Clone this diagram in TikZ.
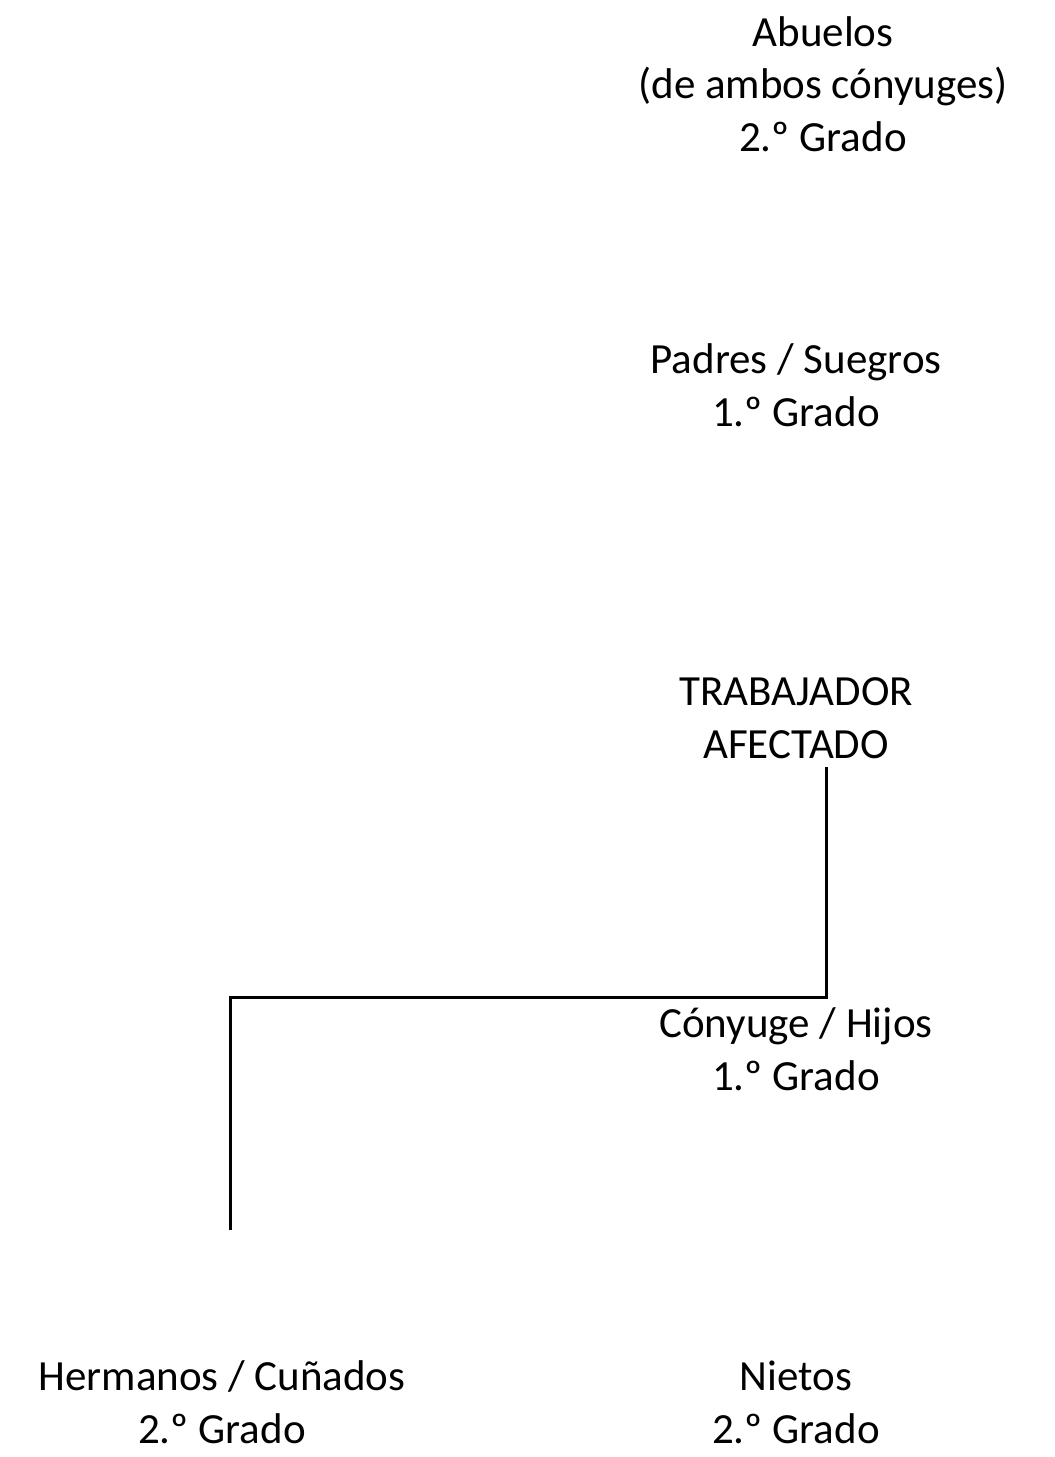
\documentclass[tikz,border=0pt]{standalone}
\usepackage{fontspec}
\setmainfont{Carlito}
\usetikzlibrary{positioning}

\begin{document}
\begin{tikzpicture}[x=1pt, y=1pt,
    grado/.style={align=center, inner sep=0pt, font=\fontsize{43}{52.5}\selectfont},
    rama/.style={line width=3pt}]
  \useasboundingbox (0,0) rectangle (1055,-1457);
  \node[grado] (abuelos) at (823,-84)  {Abuelos\\(de ambos cónyuges)\\2.º Grado};
  \node[grado] (padres)  at (796,-385) {Padres / Suegros\\1.º Grado};
  \node[grado] (trab)    at (796,-718) {TRABAJADOR\\AFECTADO};
  \node[grado] (conyuge) at (796,-1049) {Cónyuge / Hijos\\1.º Grado};
  \node[grado, anchor=south] (nietos) at (796,-1444) {Nietos\\2.º Grado};
  \node[grado, anchor=south] (herman) at (222,-1444) {Hermanos / Cuñados\\2.º Grado};
  % rama hacia los hermanos
  \coordinate (ini) at (826,-767);
  \coordinate (codo) at (826,-997);
  \coordinate (fin) at (230,-1230);
  \draw[rama] (ini) -- (codo) -| (fin);
\end{tikzpicture}
\end{document}
